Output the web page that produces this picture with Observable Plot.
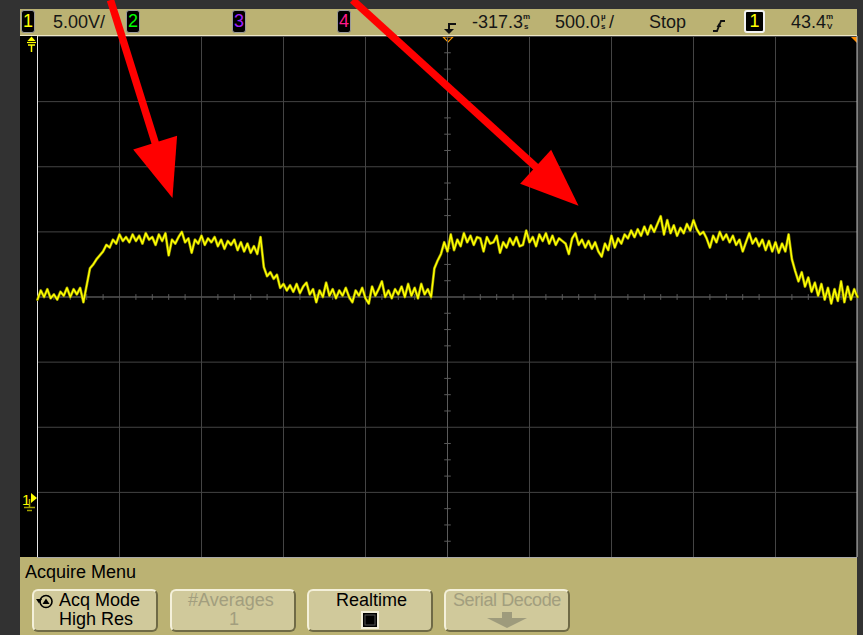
<!DOCTYPE html>
<html><head><meta charset="utf-8">
<script src="https://cdn.jsdelivr.net/npm/d3@7"></script>
<script src="https://cdn.jsdelivr.net/npm/@observablehq/plot@0.6"></script>
<style>
html,body{margin:0;padding:0;background:#323232;}
#scope{position:relative;width:863px;height:635px;background:#323232;overflow:hidden;font-family:"Liberation Sans",Arial,sans-serif;}
.abs{position:absolute;}
#status{left:20px;top:9px;width:837px;height:27px;background:#bbb273;border-bottom:1px solid #ece6c6;box-sizing:border-box;}
#screen{left:20px;top:36px;width:837px;height:521px;background:#000;}
#menu{left:20px;top:557px;width:837px;height:78px;background:#bbb273;}
.box{top:10px;width:14px;height:23px;background:#000;border:1px solid #9a9a9a;border-radius:3px;font-size:18px;line-height:21px;text-align:center;box-sizing:border-box;}
.st{position:absolute;top:12px;font-size:18px;line-height:20px;color:#161616;white-space:nowrap;}
.u{position:absolute;font-size:8px;line-height:9px;height:9px;color:#161616;font-weight:bold;}
.btn{top:589px;width:126px;height:43px;box-sizing:border-box;background:#d0c99b;border:2px solid;border-color:#f4f0da #6f6a46 #6f6a46 #f4f0da;border-radius:6px;}
.bt{position:absolute;font-size:18px;line-height:20px;color:#000;white-space:nowrap;}
.dim{color:#a29e7e;}
#chart{position:absolute;left:0;top:0;}
</style>
</head><body>
<div id="scope">
  <div class="abs" id="status"></div>
  <div class="abs" id="screen"></div>
  <div class="abs" id="menu"></div>

  <div class="abs box" style="left:21px;color:#ffff00;">1</div>
  <div class="st" style="left:53px;">5.00V/</div>
  <div class="abs box" style="left:126px;color:#00ff00;">2</div>
  <div class="abs box" style="left:232px;color:#a020ff;">3</div>
  <div class="abs box" style="left:337px;color:#ff1a8c;">4</div>
  <div class="st" style="left:472px;">-317.3</div>
  <div class="u" style="left:523px;top:12px;">m</div>
  <div class="u" style="left:524px;top:21.5px;">s</div>
  <div class="st" style="left:555px;">500.0</div>
  <div class="u" style="left:601px;top:12px;">µ</div>
  <div class="u" style="left:601px;top:21.5px;">s</div>
  <div class="st" style="left:609px;">/</div>
  <div class="st" style="left:649px;">Stop</div>
  <div class="abs box" style="left:744px;width:21px;border:2px solid #f2f2f2;color:#ffff00;line-height:19px;">1</div>
  <div class="st" style="left:791px;">43.4</div>
  <div class="u" style="left:826px;top:12px;">m</div>
  <div class="u" style="left:827px;top:21.5px;">V</div>

  <svg class="abs" style="left:0;top:0;" width="863" height="635">
    <path d="M456,24 H449 V31" stroke="#111" stroke-width="2" fill="none"/>
    <polygon points="444,29 454,29 449,34" fill="#111"/>
    <path d="M713,31 H717 L721,21 H725" stroke="#111" stroke-width="1.8" fill="none"/>
    <polygon points="716.5,27 721.5,27 719,23" fill="#111"/>
    <polygon points="31.5,36.5 27.5,41 35.5,41" fill="#ffff00"/>
    <line x1="27" y1="42.5" x2="36" y2="42.5" stroke="#ffff00" stroke-width="1.2"/>
    <line x1="28" y1="45" x2="35" y2="45" stroke="#ffff00" stroke-width="1.5"/>
    <line x1="31.5" y1="45" x2="31.5" y2="52" stroke="#ffff00" stroke-width="1.5"/>
    <text x="22" y="505" font-size="15" font-family="Liberation Sans, Arial, sans-serif" fill="#ffff00">1</text>
    <polygon points="31,493 31,503 37,498" fill="#ffff00"/>
    <line x1="29.5" y1="499" x2="29.5" y2="507" stroke="#b0b000" stroke-width="1.5"/>
    <line x1="24" y1="507.5" x2="35" y2="507.5" stroke="#a0a000" stroke-width="1.5"/>
    <line x1="27" y1="510.5" x2="32" y2="510.5" stroke="#a0a000" stroke-width="1.5"/>
    <polygon points="443,36.8 453,36.8 448,42" fill="none" stroke="#ff9a00" stroke-width="1.2"/>
    <polygon points="850,36 857,36 857,43" fill="#ff8c00"/>
  </svg>

  <div class="abs" style="left:25px;top:562px;font-size:18px;line-height:20px;color:#000;">Acquire Menu</div>

  <div class="abs btn" style="left:32px;"></div>
  <div class="abs btn" style="left:170px;"></div>
  <div class="abs btn" style="left:307px;"></div>
  <div class="abs btn" style="left:444px;"></div>

  <svg class="abs" style="left:0;top:0;" width="863" height="635">
    <circle cx="46" cy="601.5" r="6" stroke="#000" stroke-width="1.6" fill="none"/>
    <polygon points="36,599 42,599 39,603.5" fill="#000"/>
    <polygon points="42.5,604 49.5,604 46,598.5" fill="#000"/>
    <rect x="362" y="612" width="16" height="16" fill="#000" stroke="#f2eed8" stroke-width="2"/>
    <rect x="365" y="615" width="10" height="10" fill="#000" stroke="#555" stroke-width="1"/>
    <rect x="502" y="612" width="10" height="7" fill="#9e9b7c"/>
    <polygon points="487,618 527,618 507,628" fill="#9e9b7c"/>
  </svg>
  <div class="bt" style="left:59px;top:590px;">Acq Mode</div>
  <div class="bt" style="left:59px;top:609px;">High Res</div>
  <div class="bt dim" style="left:188px;top:590px;">#Averages</div>
  <div class="bt dim" style="left:229px;top:609px;">1</div>
  <div class="bt" style="left:336px;top:590px;">Realtime</div>
  <div class="bt dim" style="left:453px;top:590px;letter-spacing:-0.4px;">Serial Decode</div>

  <div id="chart"></div>
</div>

<script>
// ---- data ----
const channelLabel = "1";
const voltsPerDiv = 5;          // V/div
const timePerDiv = 500;         // µs/div
const timeStart = -2500;        // µs, left edge of screen
const sampleStep = 20;          // µs between samples
// Channel 1 voltages (V), left to right
const voltages = [
  15.2,15.9,15.4,16.0,15.3,15.6,15.2,15.8,15.5,16.1,
  15.4,16.0,15.6,16.1,15.0,16.3,17.6,17.9,18.3,18.6,
  18.9,19.4,19.2,19.8,19.5,20.2,19.7,20.0,19.6,20.2,
  19.7,20.1,19.5,20.3,19.8,20.0,19.4,20.2,19.7,20.3,
  18.6,19.8,19.5,20.0,20.4,19.6,19.9,18.8,19.8,19.5,
  20.1,19.4,19.9,19.6,20.0,19.3,19.8,19.1,19.7,19.4,
  19.8,19.0,19.6,18.9,19.5,18.8,19.3,18.7,20.0,17.7,
  17.0,17.3,16.8,17.1,16.1,16.4,15.9,16.3,15.8,16.4,
  15.7,16.2,16.5,15.6,16.0,15.0,15.9,15.4,16.5,15.5,
  16.0,15.3,15.9,15.5,16.1,15.4,15.0,15.9,15.5,16.1,
  15.3,14.9,16.2,15.5,16.0,16.6,15.4,15.9,15.3,16.0,
  15.6,16.2,15.4,16.4,15.5,16.1,15.3,16.4,15.6,16.0,
  15.4,17.6,18.2,18.7,19.6,18.9,20.2,19.0,19.8,19.3,
  20.3,19.6,20.1,19.4,20.0,19.9,18.9,20.0,19.5,19.6,
  20.1,18.8,19.6,19.2,19.9,19.4,20.0,19.3,19.4,20.5,
  19.6,20.0,19.3,20.2,19.7,20.3,19.5,20.1,19.4,19.9,
  19.7,19.5,18.7,19.9,20.3,19.4,19.8,19.2,19.7,19.1,
  19.6,18.9,18.5,19.5,19.0,20.1,19.2,19.9,19.5,20.2,
  19.9,20.5,20.0,20.6,20.1,20.8,20.2,20.9,20.4,21.0,
  21.6,20.2,21.3,20.3,20.9,20.1,20.7,20.3,21.0,20.5,
  21.3,20.6,20.2,20.4,19.9,19.2,20.1,19.6,20.4,19.8,
  20.2,19.6,20.1,19.4,19.8,18.9,19.6,20.3,19.5,19.9,
  19.3,19.8,19.0,19.7,18.9,19.6,18.8,19.5,18.9,20.2,
  18.3,17.4,16.6,17.3,16.2,16.9,15.8,16.5,15.5,16.4,
  15.2,16.1,14.9,16.0,15.1,16.6,15.0,16.2,15.2,16.0,
  15.4
];
// screen extent
const timeDomain = [-2500, 2500];   // µs (10 div)
const voltDomain = [-4.6, 35.4];    // V (8 div), ground 0 V
// annotation arrows (start, tip) in time µs / volts
const arrowStarts = [[-2055, 38.2], [-579, 38.2]];
const arrowTips = [[-1677, 23.0], [799, 22.4]];

// ---- layout ----
const W = 863, H = 635, mL = 37, mR = 6, mT = 36, mB = 78;
const kx = (W - mL - mR) / (timeDomain[1] - timeDomain[0]);
const ky = (H - mT - mB) / (voltDomain[1] - voltDomain[0]);

const trace = voltages.map((v, i) => ({t: timeStart + i * sampleStep, v}));
const xDivs = d3.range(11).map(i => timeDomain[0] + i * timePerDiv);
const yDivs = d3.range(9).map(i => +(voltDomain[0] + i * voltsPerDiv).toFixed(2));
const xCenter = 0, yCenter = +(voltDomain[0] + 4 * voltsPerDiv).toFixed(2);
const xMinor = d3.range(-2500, 2501, 100).filter(t => t % 500 !== 0);
const yMinor = d3.range(0, 33).map(i => voltDomain[0] + i * 1.25).filter((v, i) => i % 4 !== 0);

const headLen = 58, headHalf = 23;
const arrowMarks = [];
arrowStarts.forEach((s, i) => {
  const tip = arrowTips[i];
  const dxp = (tip[0] - s[0]) * kx, dyp = -(tip[1] - s[1]) * ky;
  const len = Math.hypot(dxp, dyp), ux = dxp / len, uy = dyp / len;
  const back = headLen - 6;
  const shaftEnd = {t: tip[0] - back * ux / kx, v: tip[1] + back * uy / ky};
  arrowMarks.push(Plot.link([{t1: s[0], v1: s[1], t2: shaftEnd.t, v2: shaftEnd.v}],
    {x1: "t1", y1: "v1", x2: "t2", y2: "v2", stroke: "#ff0000", strokeWidth: 7.5, strokeLinecap: "butt"}));
  const head = {draw(ctx) {
    ctx.moveTo(0, 0);
    ctx.lineTo(-headLen * ux - headHalf * uy, -headLen * uy + headHalf * ux);
    ctx.lineTo(-headLen * ux + headHalf * uy, -headLen * uy - headHalf * ux);
    ctx.closePath();
  }};
  arrowMarks.push(Plot.dot([{t: tip[0], v: tip[1]}], {x: "t", y: "v", symbol: head, r: 10, fill: "#ff0000", stroke: "none"}));
});

const chart = Plot.plot({
  width: W, height: H,
  marginLeft: mL, marginRight: mR, marginTop: mT, marginBottom: mB,
  x: {domain: timeDomain, axis: null},
  y: {domain: voltDomain, axis: null},
  style: {background: "transparent", overflow: "visible"},
  marks: [
    Plot.ruleX(xDivs, {stroke: "#444", strokeWidth: 1}),
    Plot.ruleY(yDivs, {stroke: "#444", strokeWidth: 1}),
    Plot.ruleX([xCenter], {stroke: "#5a5a5a"}),
    Plot.ruleY([yCenter], {stroke: "#5a5a5a"}),
    Plot.link(xMinor, {x1: d => d, x2: d => d, y1: yCenter - 0.22, y2: yCenter + 0.22, stroke: "#5a5a5a"}),
    Plot.link(yMinor, {x1: -20, x2: 20, y1: d => d, y2: d => d, stroke: "#5a5a5a"}),
    Plot.ruleX([timeDomain[0]], {stroke: "#e6e6e6"}),
    Plot.ruleX([timeDomain[1]], {stroke: "#bdbdbd", dx: -0.5}),
    Plot.ruleY([voltDomain[0]], {stroke: "#a8a8a8"}),
    Plot.line(trace, {x: "t", y: "v", stroke: "#8c8c00", strokeWidth: 2.8}),
    Plot.line(trace, {x: "t", y: "v", stroke: "#ffff00", strokeWidth: 1.5}),
    ...arrowMarks
  ]
});
document.getElementById("chart").appendChild(chart);
</script>
</body></html>
